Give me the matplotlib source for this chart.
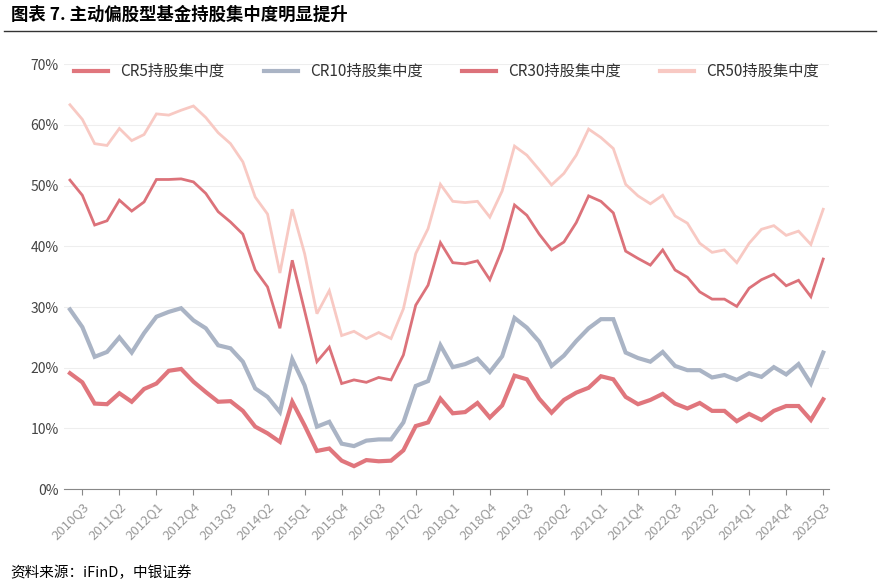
import matplotlib.pyplot as plt
from matplotlib.ticker import PercentFormatter
from matplotlib.lines import Line2D

plt.rcParams['font.family'] = ['Noto Sans CJK SC', 'DejaVu Sans']

quarters = []
for y in range(2010, 2026):
    for q in range(1, 5):
        quarters.append(f"{y}Q{q}")
quarters = quarters[quarters.index("2010Q2"):quarters.index("2025Q3") + 1]

cr5 = [19.1, 17.6, 14.1, 14.0, 15.8, 14.4, 16.5, 17.4, 19.5, 19.8, 17.7, 16.0, 14.4, 14.5, 12.9,
       10.3, 9.2, 7.8, 14.4, 10.5, 6.3, 6.7, 4.7, 3.8, 4.8, 4.6, 4.7, 6.4, 10.4, 11.0, 14.9, 12.5,
       12.7, 14.2, 11.8, 13.8, 18.7, 18.1, 14.9, 12.6, 14.7, 15.9, 16.7, 18.6, 18.1, 15.2, 14.0,
       14.7, 15.7, 14.1, 13.3, 14.2, 12.9, 12.9, 11.2, 12.4, 11.4, 12.9, 13.7, 13.7, 11.4, 14.8]
cr10 = [29.6, 26.7, 21.8, 22.6, 25.0, 22.5, 25.7, 28.4, 29.2, 29.8, 27.8, 26.5, 23.7, 23.2, 21.0,
        16.6, 15.2, 12.7, 21.4, 17.1, 10.3, 11.1, 7.5, 7.1, 8.0, 8.2, 8.2, 11.0, 17.0, 17.8, 23.7, 20.1,
        20.6, 21.5, 19.3, 21.9, 28.2, 26.6, 24.3, 20.3, 22.0, 24.4, 26.5, 28.0, 28.0, 22.5, 21.6,
        21.0, 22.6, 20.3, 19.6, 19.6, 18.4, 18.8, 18.0, 19.1, 18.5, 20.1, 18.9, 20.6, 17.4, 22.5]
cr30 = [50.9, 48.4, 43.5, 44.2, 47.6, 45.8, 47.3, 51.0, 51.0, 51.1, 50.6, 48.7, 45.7, 44.0, 42.0,
        36.1, 33.3, 26.5, 37.7, 29.4, 21.0, 23.4, 17.4, 18.0, 17.6, 18.4, 18.0, 22.1, 30.3, 33.6, 40.6, 37.3,
        37.1, 37.6, 34.5, 39.5, 46.8, 45.1, 42.0, 39.4, 40.7, 43.9, 48.3, 47.4, 45.5, 39.2, 38.0,
        36.9, 39.4, 36.1, 34.9, 32.5, 31.3, 31.3, 30.1, 33.1, 34.5, 35.4, 33.5, 34.4, 31.7, 37.9]
cr50 = [63.3, 60.9, 56.9, 56.6, 59.4, 57.4, 58.4, 61.8, 61.6, 62.4, 63.1, 61.2, 58.7, 56.9, 53.9,
        48.1, 45.3, 35.6, 46.1, 38.8, 28.9, 32.7, 25.3, 26.0, 24.8, 25.8, 24.8, 29.7, 38.8, 42.9, 50.2, 47.4,
        47.2, 47.4, 44.8, 49.1, 56.5, 55.0, 52.6, 50.1, 52.0, 55.0, 59.3, 57.9, 56.1, 50.2, 48.3,
        47.0, 48.4, 45.0, 43.8, 40.5, 39.0, 39.4, 37.3, 40.5, 42.8, 43.4, 41.8, 42.5, 40.3, 46.1]

names = ["CR5持股集中度", "CR10持股集中度", "CR30持股集中度", "CR50持股集中度"]
colors = ["#e0767d", "#aab4c5", "#dc727a", "#f8c9c3"]
widths = [3.0, 3.0, 2.0, 2.0]

fig = plt.figure(figsize=(8.8, 5.88), dpi=100)
ax = fig.add_axes([0.0725, 0.168, 0.87, 0.723])

x = range(len(quarters))
for vals, name, c, w in zip([cr5, cr10, cr30, cr50], names, colors, widths):
    ax.plot(x, vals, color=c, lw=w, label=name, solid_joinstyle='miter')

ax.set_ylim(0, 70)
ax.set_xlim(-0.5, len(quarters) - 0.5)
ax.set_yticks(range(0, 71, 10))
ax.yaxis.set_major_formatter(PercentFormatter(decimals=0))
ax.grid(axis='y', color='#eeeeee', lw=0.8)
ax.set_axisbelow(True)
for s in ['top', 'right', 'left']:
    ax.spines[s].set_visible(False)
ax.spines['bottom'].set_color('#888888')
ax.tick_params(axis='y', length=0, labelsize=10, colors='#444444')
ticks = list(range(1, len(quarters), 3))
ax.set_xticks(ticks)
ax.set_xticklabels([quarters[i] for i in ticks], rotation=45, ha='right',
                   rotation_mode='anchor', fontsize=9.5, color='#999999')
ax.tick_params(axis='x', length=4, color='#888888')

handles = [Line2D([], [], color=c, lw=3) for c in colors]
ax.legend(handles, names, loc='upper center', bbox_to_anchor=(0.5, 1.035), ncol=4,
          frameon=False, fontsize=11, handlelength=2.2, columnspacing=2.6,
          labelcolor='#333333')

fig.text(0.012, 0.975, "图表 7. 主动偏股型基金持股集中度明显提升", fontsize=12.5,
         fontweight='bold', va='center', ha='left')
fig.add_artist(Line2D([0.005, 0.995], [0.948, 0.948], color='#333333', lw=1))
fig.text(0.012, 0.025, "资料来源：iFinD，中银证券", fontsize=10.5, style='italic',
         va='center', ha='left')

fig.savefig("out.png", dpi=100)
